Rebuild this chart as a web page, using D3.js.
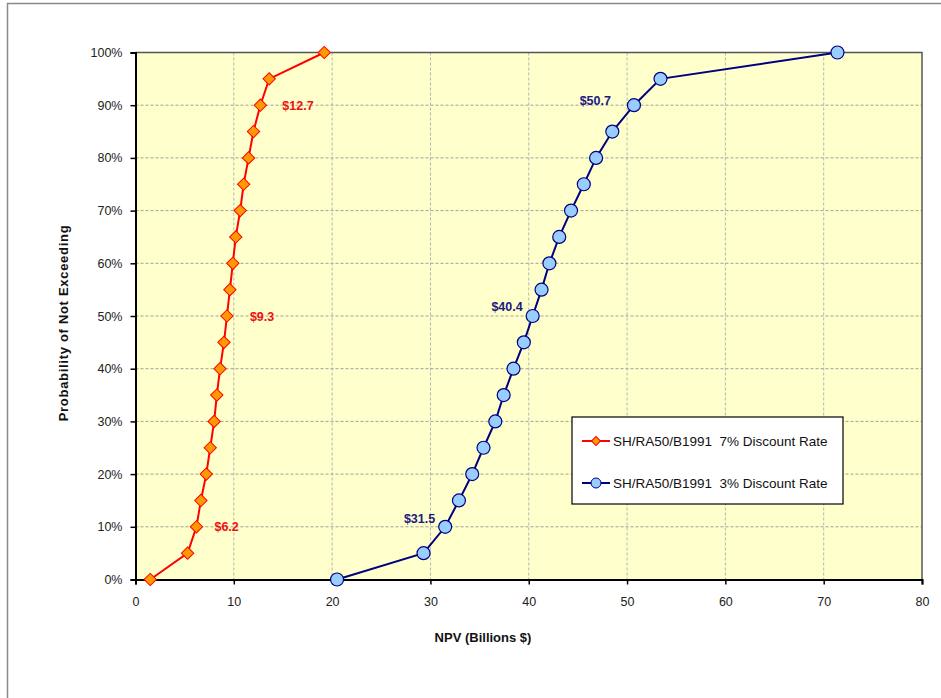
<!DOCTYPE html>
<html><head><meta charset="utf-8">
<script src="https://cdn.jsdelivr.net/npm/d3@7"></script>
<style>body{margin:0;background:#fff}svg{display:block;font-family:"Liberation Sans",Arial,sans-serif}</style>
</head><body><svg id="c" width="941" height="698"></svg>
<script>
const probs = [0,5,10,15,20,25,30,35,40,45,50,55,60,65,70,75,80,85,90,95,100];
const npv7 = [1.5,5.3,6.2,6.65,7.2,7.6,8.0,8.27,8.6,9.0,9.3,9.6,9.9,10.2,10.65,11.0,11.5,12.0,12.7,13.6,19.2];
const npv3 = [20.5,29.3,31.5,32.9,34.25,35.4,36.6,37.45,38.45,39.5,40.4,41.3,42.1,43.1,44.3,45.6,46.85,48.5,50.7,53.4,71.4];
const seriesNames = ["SH/RA50/B1991  7% Discount Rate","SH/RA50/B1991  3% Discount Rate"];
const xTicks = [0,10,20,30,40,50,60,70,80];
const yTicks = [0,10,20,30,40,50,60,70,80,90,100];
const labels7 = [{p:10,v:6.2,t:"$6.2"},{p:50,v:9.3,t:"$9.3"},{p:90,v:12.7,t:"$12.7"}];
const labels3 = [{p:10,v:31.5,t:"$31.5"},{p:50,v:40.4,t:"$40.4"},{p:90,v:50.7,t:"$50.7"}];

const svg = d3.select("#c");
const L=135.5, R=922, T=52.5, B=579.5;
const x = d3.scaleLinear().domain([0,80]).range([L,R]);
const y = d3.scaleLinear().domain([0,100]).range([B,T]);

// outer frame
svg.append("path").attr("d","M7.5,698 V3.5 H941").attr("fill","none").attr("stroke","#8a8a8a").attr("stroke-width",1.5);

// plot bg
svg.append("rect").attr("x",L).attr("y",T).attr("width",R-L).attr("height",B-T).attr("fill","#FFFFCC");

// grid
svg.append("g").selectAll("line").data(xTicks.slice(1,-1)).join("line")
  .attr("x1",d=>x(d)).attr("x2",d=>x(d)).attr("y1",T).attr("y2",B)
  .attr("stroke","#b5b5b5").attr("stroke-dasharray","3,2").attr("stroke-width",1);
svg.append("g").selectAll("line").data(yTicks.slice(1,-1)).join("line")
  .attr("x1",L).attr("x2",R).attr("y1",d=>y(d)).attr("y2",d=>y(d))
  .attr("stroke","#a0a0a0").attr("stroke-dasharray","3,2").attr("stroke-width",1);

// plot border top/right
svg.append("path").attr("d",`M${L},${T} H${R} V${B}`).attr("fill","none").attr("stroke","#555").attr("stroke-width",1.5);

// axes
const xAxis = d3.axisBottom(x).tickValues(xTicks).tickSize(5).tickPadding(13);
const gx = svg.append("g").attr("transform",`translate(0,${B})`).call(xAxis);
gx.select(".domain").attr("stroke","#000").attr("stroke-width",2);
gx.selectAll(".tick line").attr("stroke","#000").attr("stroke-width",1.5);
gx.selectAll("text").attr("font-size",12.5).attr("fill","#222").attr("font-family","Liberation Sans, Arial, sans-serif");

const yAxis = d3.axisLeft(y).tickValues(yTicks).tickSize(5).tickPadding(8).tickFormat(d=>d+"%");
const gy = svg.append("g").attr("transform",`translate(${L},0)`).call(yAxis);
gy.select(".domain").attr("stroke","#000").attr("stroke-width",2);
gy.selectAll(".tick line").attr("stroke","#000").attr("stroke-width",1.5);
gy.selectAll("text").attr("font-size",12.5).attr("fill","#222").attr("font-family","Liberation Sans, Arial, sans-serif");

// axis titles
svg.append("text").attr("x",483).attr("y",642).attr("text-anchor","middle")
  .attr("font-size",13).attr("font-weight","bold").attr("fill","#111").text("NPV (Billions $)");
svg.append("text").attr("transform","translate(68,323) rotate(-90)").attr("text-anchor","middle")
  .attr("font-size",13).attr("font-weight","bold").attr("fill","#111").attr("letter-spacing",0.7)
  .text("Probability of Not Exceeding");

const line = d3.line();
const pts7 = probs.map((p,i)=>[x(npv7[i]),y(p)]);
const pts3 = probs.map((p,i)=>[x(npv3[i]),y(p)]);

svg.append("path").attr("d",line(pts7)).attr("fill","none").attr("stroke","#FF0000").attr("stroke-width",2);
svg.append("path").attr("d",line(pts3)).attr("fill","none").attr("stroke","#000080").attr("stroke-width",2);

svg.append("g").selectAll("path").data(pts7).join("path")
  .attr("transform",d=>`translate(${d[0]},${d[1]}) rotate(45)`)
  .attr("d",d3.symbol().type(d3.symbolSquare).size(76))
  .attr("fill","#FF9900").attr("stroke","#FF0000").attr("stroke-width",1);
svg.append("g").selectAll("circle").data(pts3).join("circle")
  .attr("cx",d=>d[0]).attr("cy",d=>d[1]).attr("r",6.5)
  .attr("fill","#99CCFF").attr("stroke","#000080").attr("stroke-width",1.2);

// value labels
svg.append("g").selectAll("text").data(labels7).join("text")
  .attr("x",d=>x(d.v)+ (d.p===90?22:d.p===50?23:18)).attr("y",d=>y(d.p)+4.5)
  .attr("font-size",12.5).attr("font-weight","bold").attr("fill","#EE1111").text(d=>d.t);
svg.append("g").selectAll("text").data(labels3).join("text")
  .attr("x",d=>x(d.v)-(d.p===90?23:10)).attr("y",d=>y(d.p)-(d.p===90?0:5)+(d.p===10?1:0))
  .attr("text-anchor","end")
  .attr("font-size",12.5).attr("font-weight","bold").attr("fill","#1a1a80").text(d=>d.t);

// legend
const lg = svg.append("g");
lg.append("rect").attr("x",572).attr("y",417).attr("width",271).attr("height",87)
  .attr("fill","#fff").attr("stroke","#000").attr("stroke-width",1.2);
const ly = [441,483];
lg.append("line").attr("x1",582).attr("x2",610).attr("y1",ly[0]).attr("y2",ly[0]).attr("stroke","#FF0000").attr("stroke-width",2);
lg.append("path").attr("transform",`translate(596,${ly[0]}) rotate(45)`).attr("d",d3.symbol().type(d3.symbolSquare).size(40))
  .attr("fill","#FF9900").attr("stroke","#FF0000");
lg.append("line").attr("x1",582).attr("x2",610).attr("y1",ly[1]).attr("y2",ly[1]).attr("stroke","#000080").attr("stroke-width",2);
lg.append("circle").attr("cx",596).attr("cy",ly[1]).attr("r",5).attr("fill","#99CCFF").attr("stroke","#000080");
lg.selectAll("text").data(seriesNames).join("text")
  .attr("x",613).attr("y",(d,i)=>ly[i]+5).attr("font-size",13.5).attr("fill","#111")
  .attr("xml:space","preserve").style("white-space","pre").text(d=>d);
</script></body></html>
